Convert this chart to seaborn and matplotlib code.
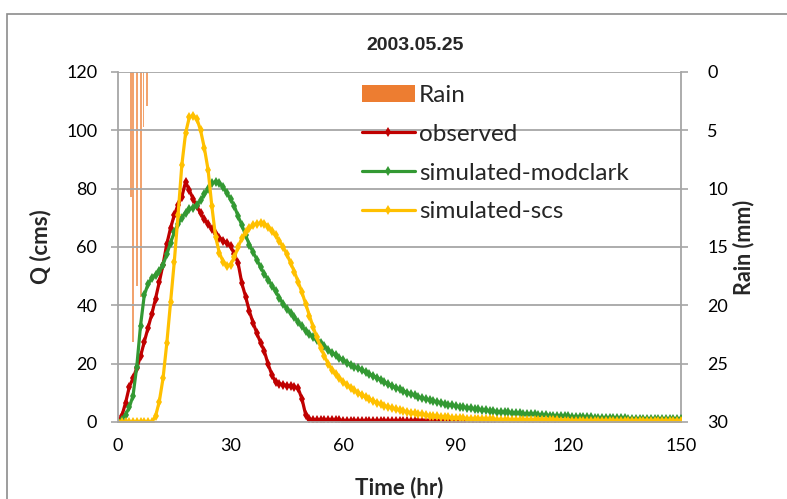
import matplotlib
matplotlib.use("Agg")
import matplotlib.pyplot as plt
from matplotlib.patches import Patch, Rectangle
from matplotlib.lines import Line2D
import seaborn as sns
import pandas as pd

# hourly time axis
hours = list(range(0, 151))

# rainfall (mm), thin bars on the inverted secondary axis
rain_time = [3.4, 4.1, 5.0, 6.1, 6.8, 7.8]
rain_mm = [10.7, 23.1, 18.3, 19.3, 4.7, 2.9]

observed = [
    0, 2, 6.5, 12, 15, 18.5, 22.5, 27.5, 32.2, 37,
    42.3, 48, 54, 61, 66.5, 71, 74.5, 77.2, 82.3, 79.5,
    76.5, 74, 71.5, 69.5, 67.8, 66.2, 64.6, 63.2, 62.2, 61.2,
    60.3, 57.5, 54.5, 47.5, 43, 38, 34, 30.4, 27.2, 24.2,
    19.8, 16.2, 13.6, 13.1, 12.8, 12.5, 12.2, 12, 11.5, 8,
    2.5, 1.0, 0.8, 0.8, 0.7, 0.7, 0.7, 0.6, 0.6, 0.6,
    0.5, 0.5, 0.5, 0.5, 0.5, 0.4, 0.4, 0.4, 0.4, 0.4,
    0.4, 0.3, 0.3, 0.3, 0.3, 0.3, 0.3, 0.3, 0.3, 0.3,
    0.3, 0.3, 0.3, 0.2, 0.2, 0.2, 0.2, 0.2, 0.2, 0.2,
    0.2, 0.2, 0.2, 0.2, 0.2, 0.2, 0.2, 0.1, 0.1, 0.1,
    0.1, 0.1, 0.1, 0.1, 0.1, 0.1, 0.1, 0.1, 0.1, 0.1,
    0.1, 0.1, 0.1, 0.1, 0.1, 0.1, 0.1, 0.1, 0.1, 0.1,
    0.1, 0.1, 0.1, 0.1, 0.1, 0, 0, 0, 0, 0,
    0, 0, 0, 0, 0, 0, 0, 0, 0, 0,
    0, 0, 0, 0, 0, 0, 0, 0, 0, 0,
    0,
]

modclark = [
    0, 0.8, 2.5, 5, 9, 19, 33, 43.5, 47.3, 49.3,
    50.5, 51.8, 54, 57.5, 61.5, 65, 68, 70, 71.8, 73,
    73.5, 74.5, 76, 78, 80, 81.8, 82.4, 82, 80.5, 78.5,
    76.5, 74, 70.5, 67.5, 64, 60.8, 58.2, 55.7, 53, 50.8,
    48.8, 46.8, 44.8, 42.5, 40.5, 38.8, 37.5, 36, 34.2, 32.8,
    31.3, 30.2, 29.1, 28, 27, 26, 24.7, 23.8, 22.9, 22,
    21.2, 20.4, 19.6, 19, 18.4, 17.7, 17, 16.4, 15.8, 15.2,
    14.4, 13.6, 13, 12.4, 11.8, 11.2, 10.7, 10.1, 9.6, 9.1,
    8.6, 8.2, 7.9, 7.5, 7.2, 6.9, 6.6, 6.3, 6, 5.7,
    5.5, 5.3, 5.1, 4.9, 4.7, 4.5, 4.3, 4.1, 4, 3.8,
    3.7, 3.6, 3.5, 3.4, 3.3, 3.2, 3.1, 3, 2.9, 2.8,
    2.7, 2.6, 2.5, 2.4, 2.3, 2.2, 2.15, 2.1, 2, 1.95,
    1.9, 1.85, 1.8, 1.7, 1.65, 1.6, 1.55, 1.5, 1.5, 1.45,
    1.4, 1.4, 1.35, 1.3, 1.3, 1.25, 1.2, 1.2, 1.15, 1.1,
    1.1, 1.05, 1, 1, 1, 0.95, 0.95, 0.9, 0.9, 0.9,
    0.9,
]

scs = [
    0, 0, 0, 0, 0, 0, 0, 0, 0, 0,
    2, 7, 15, 27, 41, 55, 71, 88, 99, 104.5,
    105, 104, 100, 94, 86.5, 74, 63.5, 58, 55, 53.5,
    54, 56.5, 60, 63, 65, 66.4, 67.5, 68, 68.2, 68,
    67, 65.5, 64, 62, 60, 57.5, 54.5, 51.5, 48, 44.5,
    40.5, 36.5, 32.5, 29, 25.5, 22.5, 20, 18, 16.3, 15,
    13.8, 12.7, 11.8, 10.9, 10, 9.2, 8.5, 7.8, 7.2, 6.6,
    6.1, 5.6, 5.2, 4.8, 4.4, 4.1, 3.8, 3.5, 3.2, 3,
    2.8, 2.6, 2.4, 2.2, 2.1, 1.9, 1.8, 1.7, 1.6, 1.5,
    1.4, 1.3, 1.25, 1.2, 1.15, 1.1, 1.05, 1, 0.95, 0.9,
    0.9, 0.85, 0.85, 0.8, 0.8, 0.75, 0.75, 0.7, 0.7, 0.7,
    0.65, 0.65, 0.6, 0.6, 0.6, 0.55, 0.55, 0.55, 0.5, 0.5,
    0.5, 0.5, 0.45, 0.45, 0.45, 0.45, 0.4, 0.4, 0.4, 0.4,
    0.4, 0.35, 0.35, 0.35, 0.35, 0.35, 0.3, 0.3, 0.3, 0.3,
    0.3, 0.3, 0.3, 0.3, 0.25, 0.25, 0.25, 0.25, 0.25, 0.25,
    0.25,
]

series_names = ["observed", "simulated-modclark", "simulated-scs"]
series_colors = ["#C00000", "#339933", "#FFC000"]

df = pd.DataFrame({"time": hours, "observed": observed,
                   "simulated-modclark": modclark, "simulated-scs": scs})

sns.set_style("white")
plt.rcParams["font.family"] = ["Lato", "DejaVu Sans"]
grid_gray = "#A6A6A6"

fig = plt.figure(figsize=(7.87, 4.99), dpi=100)
ax = fig.add_axes([118 / 787, 77 / 499, 563 / 787, 350 / 499])
ax2 = ax.twinx()

# rain bars behind the discharge lines
ax2.bar(rain_time, rain_mm, width=0.5, color="#F2A36E", linewidth=0)
ax2.set_ylim(30, 0)
ax2.set_yticks([0, 5, 10, 15, 20, 25, 30])
ax.set_zorder(ax2.get_zorder() + 1)
ax.patch.set_visible(False)

for name, col in zip(series_names, series_colors):
    sns.lineplot(data=df, x="time", y=name, ax=ax, color=col, linewidth=2.3,
                 marker="d", markersize=5.5, markeredgewidth=0, legend=False)

ax.set_xlim(0, 150)
ax.set_ylim(0, 120)
ax.set_xticks([0, 30, 60, 90, 120, 150])
ax.set_yticks([0, 20, 40, 60, 80, 100, 120])
ax.grid(axis="y", color=grid_gray, linewidth=1.3)
ax.set_axisbelow(True)

for a in (ax, ax2):
    for s in a.spines.values():
        s.set_visible(False)
    a.tick_params(colors=grid_gray, labelcolor="black", labelsize=13,
                  length=5, width=1.2, direction="out")
for a, side in ((ax, "left"), (ax, "bottom"), (ax2, "right")):
    a.spines[side].set_visible(True)
    a.spines[side].set_color(grid_gray)
    a.spines[side].set_linewidth(1.3)
ax.tick_params(axis="x", pad=6.5)
ax.tick_params(axis="y", pad=10)
ax2.tick_params(axis="y", pad=14)

ax.set_xlabel("Time (hr)", fontsize=16, fontweight="bold")
ax.set_ylabel("Q (cms)", fontsize=16, fontweight="bold")
ax2.set_ylabel("Rain (mm)", fontsize=15.5, fontweight="bold")
ax.xaxis.set_label_coords(0.5, -0.155)
ax.yaxis.set_label_coords(-0.118, 0.5)
ax2.yaxis.set_label_coords(1.092, 0.5)

fig.text(415 / 787, 1 - 45 / 499, "2003.05.25", ha="center", va="center",
         fontsize=14, fontweight="bold",
         family=["Liberation Sans", "DejaVu Sans"])

handles = [Patch(facecolor="#ED7D31", edgecolor="none")]
for col in series_colors:
    handles.append(Line2D([0], [0], color=col, linewidth=2.3, marker="d",
                          markersize=5.5, markeredgewidth=0))
ax.legend(handles, ["Rain"] + series_names, loc="upper left",
          bbox_to_anchor=((362 - 118) / 563, (422 - 85) / 350),
          frameon=False, fontsize=17.5, borderpad=0, borderaxespad=0,
          handlelength=2.18, handletextpad=0.16, labelspacing=0.73)

# outer chart-area border (only left and top edges visible)
fig.add_artist(Rectangle((7 / 787, -0.1), 1.2, 1.1 - 14 / 499, transform=fig.transFigure,
                         fill=False, edgecolor="#8C8C8C", linewidth=1.2, clip_on=False))

fig.savefig("out.png", dpi=100)
